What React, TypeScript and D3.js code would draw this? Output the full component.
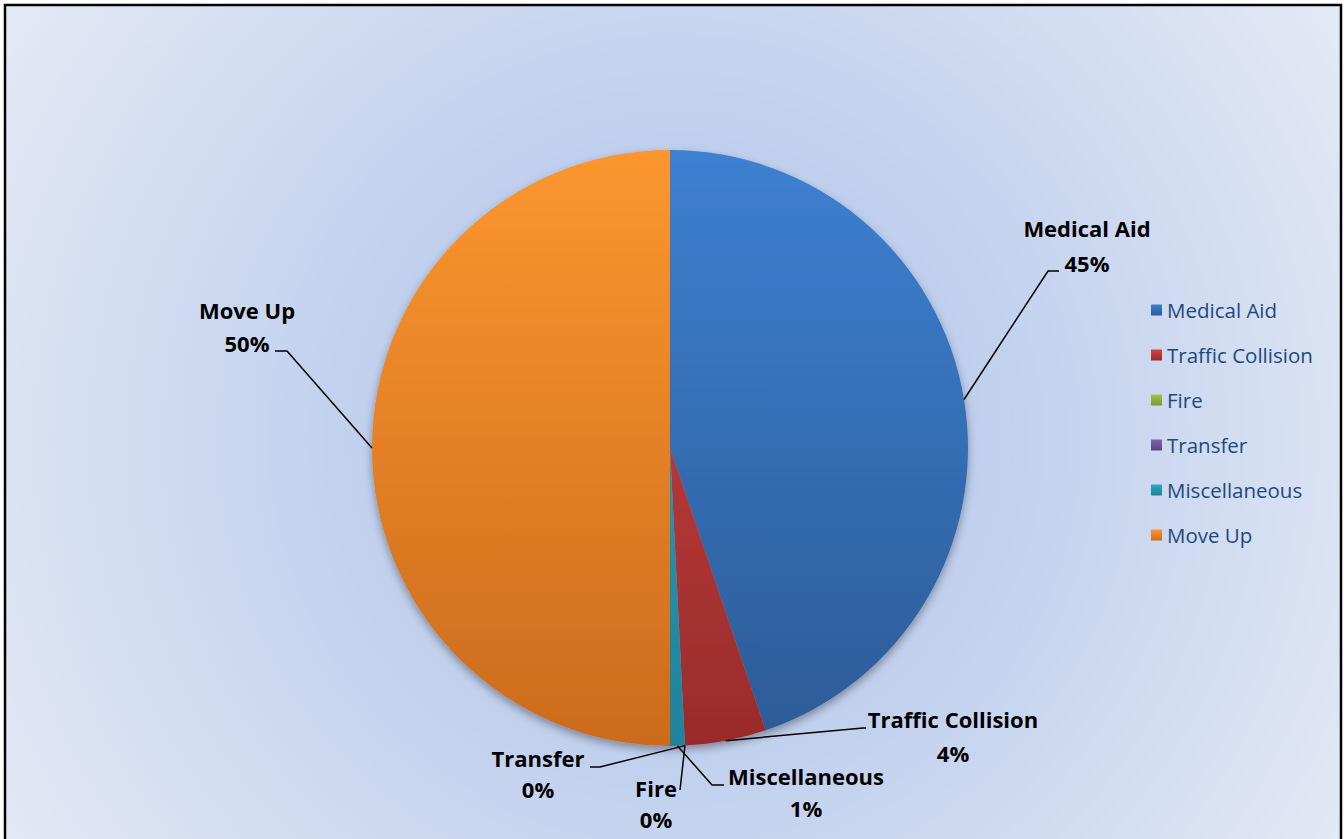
import React from 'react';
import * as d3 from 'd3';

const W = 1344;
const H = 839;

// call counts by type
const categories = ['Medical Aid', 'Traffic Collision', 'Fire', 'Transfer', 'Miscellaneous', 'Move Up'];
const counts = [112, 11, 0, 0, 2, 125];
const topColors = ['#3d80d1', '#d04444', '#9cc44c', '#8262aa', '#2fa6c2', '#fc962f'];
const bottomColors = ['#2c5b96', '#9a2b2b', '#769a38', '#5d4282', '#22829b', '#cb6b1d'];

// hand placed label boxes, as Excel leaves them
const labelLayout: Record<string, { elbow: [number, number]; end: [number, number]; cx: number; y1: number; y2: number }> = {
  'Medical Aid': { elbow: [1048, 271], end: [1059, 271], cx: 1087, y1: 237, y2: 272 },
  'Traffic Collision': { elbow: [863, 728], end: [866, 728], cx: 953, y1: 728, y2: 762 },
  Fire: { elbow: [680, 790], end: [680, 790], cx: 656, y1: 797, y2: 828 },
  Transfer: { elbow: [600, 767], end: [590, 767], cx: 538, y1: 767, y2: 798 },
  Miscellaneous: { elbow: [712, 785], end: [724, 785], cx: 806, y1: 785, y2: 817 },
  'Move Up': { elbow: [287, 351], end: [275, 351], cx: 247, y1: 319, y2: 352 },
};

const cx = 670;
const cy = 448;
const radius = 298;

export default function App() {
  const total = d3.sum(counts);
  const data = categories.map((name, i) => ({ name, value: counts[i], i }));
  const pie = d3.pie<any>().value((d) => d.value).sort(null);
  const arcs = pie(data);
  const arc = d3.arc<any>().innerRadius(0).outerRadius(radius);
  const edge = d3.arc<any>().innerRadius(radius).outerRadius(radius);
  const fmt = (v: number) => Math.round((v / total) * 100) + '%';

  const legendY = d3.scalePoint<string>().domain(categories).range([310, 535]);

  return (
    <svg width={W} height={H} style={{ position: 'absolute', left: 0, top: 0 }}>
      <defs>
        <radialGradient id="bg" gradientUnits="userSpaceOnUse" cx={675} cy={440} r={800}>
          <stop offset="0" stopColor="#abc1e7" />
          <stop offset="0.45" stopColor="#c3d2ee" />
          <stop offset="1" stopColor="#e4eaf5" />
        </radialGradient>
        {categories.map((c, i) => (
          <linearGradient key={c} id={'slice' + i} gradientUnits="userSpaceOnUse" x1={0} y1={-radius} x2={0} y2={radius}>
            <stop offset="0" stopColor={topColors[i]} />
            <stop offset="1" stopColor={bottomColors[i]} />
          </linearGradient>
        ))}
        {categories.map((c, i) => (
          <linearGradient key={c} id={'sw' + i} x1={0} y1={0} x2={0} y2={1}>
            <stop offset="0" stopColor={topColors[i]} />
            <stop offset="1" stopColor={bottomColors[i]} />
          </linearGradient>
        ))}
        <filter id="shadow" x="-20%" y="-20%" width="140%" height="140%">
          <feDropShadow dx="0" dy="4" stdDeviation="4" floodColor="#000" floodOpacity="0.35" />
        </filter>
      </defs>

      <rect x={5} y={5} width={1336} height={H + 20} fill="url(#bg)" stroke="#000" strokeWidth={2.5} />

      <g transform={`translate(${cx},${cy})`} filter="url(#shadow)">
        {arcs.map((a) => (
          <path key={a.data.name} d={arc(a) || ''} fill={`url(#slice${a.data.i})`} />
        ))}
      </g>

      {/* leader lines */}
      <g fill="none" stroke="#000" strokeWidth={1.5}>
        {arcs.map((a) => {
          const [px, py] = edge.centroid(a);
          const l = labelLayout[a.data.name];
          const pts: [number, number][] = [[px + cx, py + cy], l.elbow, l.end];
          return <path key={a.data.name} d={d3.line()(pts) || ''} />;
        })}
      </g>

      {/* data labels */}
      <g fontFamily="'Open Sans', Lato, sans-serif" fontWeight="bold" fontSize={22} fill="#000" textAnchor="middle">
        {arcs.map((a) => {
          const l = labelLayout[a.data.name];
          return (
            <g key={a.data.name}>
              <text x={l.cx} y={l.y1}>{a.data.name}</text>
              <text x={l.cx} y={l.y2}>{fmt(a.data.value)}</text>
            </g>
          );
        })}
      </g>

      {/* legend */}
      <g fontFamily="'Open Sans', Lato, sans-serif" fontSize={20.5} fill="#1f497d">
        {categories.map((c, i) => (
          <g key={c} transform={`translate(1151,${legendY(c)})`}>
            <rect x={0} y={-5.5} width={11} height={11} fill={`url(#sw${i})`} />
            <text x={16} y={7.5}>{c}</text>
          </g>
        ))}
      </g>
    </svg>
  );
}
